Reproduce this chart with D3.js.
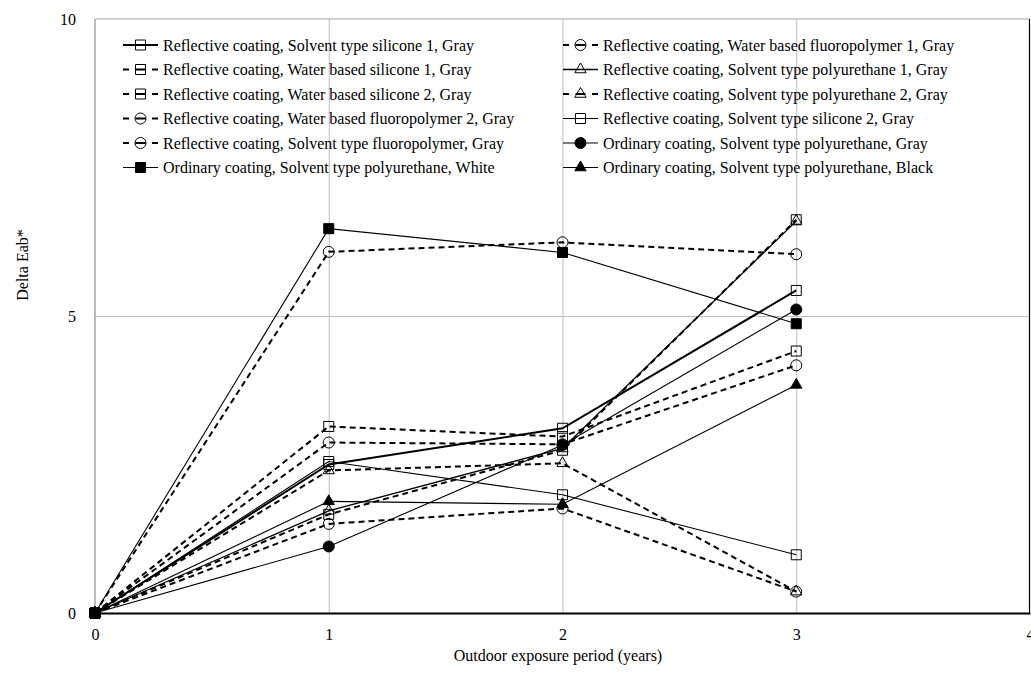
<!DOCTYPE html>
<html>
<head>
<meta charset="utf-8">
<script src="https://cdn.jsdelivr.net/npm/d3@7"></script>
<style>
  html, body { margin: 0; padding: 0; background: #fff; }
  svg { display: block; font-family: "Liberation Serif", "Times New Roman", serif; }
  svg text { font-family: "Liberation Serif", "Times New Roman", serif; }
</style>
</head>
<body>
<svg id="chart" width="1031" height="681"></svg>
<script>
// Exposure years on the x axis
const years = [0, 1, 2, 3];
const xTicks = [0, 1, 2, 3, 4];
const yTicks = [0, 5, 10];

// Series names (legend reads row by row across two columns)
const seriesNames = [
  "Reflective coating, Solvent type silicone 1, Gray",
  "Reflective coating, Water based fluoropolymer 1, Gray",
  "Reflective coating, Water based silicone 1, Gray",
  "Reflective coating, Solvent type polyurethane 1, Gray",
  "Reflective coating, Water based silicone 2, Gray",
  "Reflective coating, Solvent type polyurethane 2, Gray",
  "Reflective coating, Water based fluoropolymer 2, Gray",
  "Reflective coating, Solvent type silicone 2, Gray",
  "Reflective coating, Solvent type fluoropolymer, Gray",
  "Ordinary coating, Solvent type polyurethane, Gray",
  "Ordinary coating, Solvent type polyurethane, White",
  "Ordinary coating, Solvent type polyurethane, Black"
];

// Delta Eab* at 0, 1, 2 and 3 years
const solventSilicone1 = [0, 2.50, 3.11, 5.43];
const waterFluoro1     = [0, 6.08, 6.24, 6.04];
const waterSilicone1   = [0, 3.14, 2.97, 4.41];
const solventPU1       = [0, 1.72, 2.77, 6.60];
const waterSilicone2   = [0, 1.66, 2.74, 6.62];
const solventPU2       = [0, 2.40, 2.52, 0.36];
const waterFluoro2     = [0, 1.50, 1.76, 0.36];
const solventSilicone2 = [0, 2.55, 1.99, 0.98];
const solventFluoro    = [0, 2.87, 2.84, 4.17];
const ordinaryGray     = [0, 1.12, 2.83, 5.11];
const ordinaryWhite    = [0, 6.47, 6.07, 4.87];
const ordinaryBlack    = [0, 1.88, 1.83, 3.84];

const seriesValues = [
  solventSilicone1, waterFluoro1, waterSilicone1, solventPU1,
  waterSilicone2, solventPU2, waterFluoro2, solventSilicone2,
  solventFluoro, ordinaryGray, ordinaryWhite, ordinaryBlack
];

// Line and marker style per series
const seriesDash   = [false, true, true, false, true, true, true, false, true, false, false, false];
const seriesWidth  = [2, 2, 2, 1.3, 2, 2, 2, 1.1, 2, 1.1, 1.1, 1.1];
const seriesShape  = ["square", "circle", "square", "triangle", "square", "triangle",
                      "circle", "square", "circle", "circle", "square", "triangle"];
const seriesFilled = [false, false, false, false, false, false, false, false, false, true, true, true];

const series = seriesNames.map((name, i) => ({
  name,
  values: seriesValues[i],
  dashed: seriesDash[i],
  width: seriesWidth[i],
  shape: seriesShape[i],
  filled: seriesFilled[i]
}));

const svg = d3.select("#chart");
const plotLeft = 95, plotRight = 1030, plotTop = 19, plotBottom = 613;

const x = d3.scaleLinear().domain([0, 4]).range([plotLeft, plotRight]);
const y = d3.scaleLinear().domain([0, 10]).range([plotBottom, plotTop]);

// Gridlines
svg.append("g")
  .attr("transform", `translate(0,${plotBottom})`)
  .call(d3.axisBottom(x).tickValues([1, 2, 3]).tickSize(-(plotBottom - plotTop)).tickFormat(""))
  .call(g => g.select(".domain").remove())
  .call(g => g.selectAll(".tick line").attr("stroke", "#bdbdbd").attr("stroke-width", 1));

svg.append("g")
  .attr("transform", `translate(${plotLeft},0)`)
  .call(d3.axisLeft(y).tickValues([5]).tickSize(-(plotRight - plotLeft)).tickFormat(""))
  .call(g => g.select(".domain").remove())
  .call(g => g.selectAll(".tick line").attr("stroke", "#bdbdbd").attr("stroke-width", 1));

// Plot frame
svg.append("line").attr("x1", plotLeft).attr("x2", plotRight).attr("y1", plotTop).attr("y2", plotTop)
  .attr("stroke", "#a6a6a6").attr("stroke-width", 1.2);
svg.append("line").attr("x1", plotLeft).attr("x2", plotLeft).attr("y1", plotTop).attr("y2", plotBottom)
  .attr("stroke", "#a6a6a6").attr("stroke-width", 1.5);
svg.append("line").attr("x1", plotRight - 0.5).attr("x2", plotRight - 0.5).attr("y1", plotTop).attr("y2", plotBottom)
  .attr("stroke", "#000").attr("stroke-width", 1.2);

// Axis labels
const yAxis = svg.append("g")
  .attr("transform", `translate(${plotLeft},0)`)
  .call(d3.axisLeft(y).tickValues(yTicks).tickSize(0).tickPadding(19).tickFormat(d3.format("d")));
yAxis.select(".domain").remove();
yAxis.selectAll("text").attr("font-size", 16).attr("font-family", "Liberation Serif, serif").attr("fill", "#000");

const xAxis = svg.append("g")
  .attr("transform", `translate(0,${plotBottom})`)
  .call(d3.axisBottom(x).tickValues(xTicks).tickSize(0).tickPadding(16).tickFormat(d3.format("d")));
xAxis.select(".domain").attr("stroke", "#000").attr("stroke-width", 2);
xAxis.selectAll("text").attr("font-size", 16).attr("font-family", "Liberation Serif, serif").attr("fill", "#000");

svg.append("text")
  .attr("x", 558).attr("y", 661)
  .attr("text-anchor", "middle").attr("font-size", 16)
  .text("Outdoor exposure period (years)");

svg.append("text")
  .attr("transform", "translate(28,265) rotate(-90)")
  .attr("text-anchor", "middle").attr("font-size", 16)
  .text("Delta Eab*");

// Marker paths
function markerPath(shape) {
  if (shape === "square") return d3.symbol(d3.symbolSquare, 100)();
  if (shape === "circle") return d3.symbol(d3.symbolCircle, 95)();
  return d3.symbol(d3.symbolTriangle, 55)();
}

const lineGen = d3.line().x((d, i) => x(years[i])).y(d => y(d));

const plot = svg.append("g");
plot.selectAll("path.series")
  .data(series)
  .join("path")
  .attr("class", "series")
  .attr("d", s => lineGen(s.values))
  .attr("fill", "none")
  .attr("stroke", "#000")
  .attr("stroke-width", s => s.width)
  .attr("stroke-dasharray", s => s.dashed ? "6,4" : null);

series.forEach(s => {
  plot.selectAll(null)
    .data(s.values)
    .join("path")
    .attr("transform", (d, i) => `translate(${x(years[i])},${y(d)})`)
    .attr("d", markerPath(s.shape))
    .attr("fill", s.filled ? "#000" : "none")
    .attr("stroke", "#000")
    .attr("stroke-width", 1);
});

// Legend, two columns
const legendCols = [123, 563];
const legendRow0 = 45, legendStep = 24.5;
const legend = svg.append("g").attr("font-size", 16);
series.forEach((s, i) => {
  const col = i % 2, row = Math.floor(i / 2);
  const lx = legendCols[col];
  const ly = legendRow0 + row * legendStep;
  const g = legend.append("g").attr("transform", `translate(${lx},${ly})`);
  g.append("line")
    .attr("x1", 0).attr("x2", 35).attr("y1", 0).attr("y2", 0)
    .attr("stroke", "#000")
    .attr("stroke-width", s.dashed ? 2 : s.width)
    .attr("stroke-dasharray", s.dashed ? "6,6.5,10,6.5,6" : null);
  g.append("path")
    .attr("transform", "translate(17.5,0)")
    .attr("d", markerPath(s.shape))
    .attr("fill", s.filled ? "#000" : "none")
    .attr("stroke", "#000")
    .attr("stroke-width", 1);
  g.append("text")
    .attr("x", 40).attr("y", 0).attr("dy", "0.35em")
    .text(s.name);
});
</script>
</body>
</html>
